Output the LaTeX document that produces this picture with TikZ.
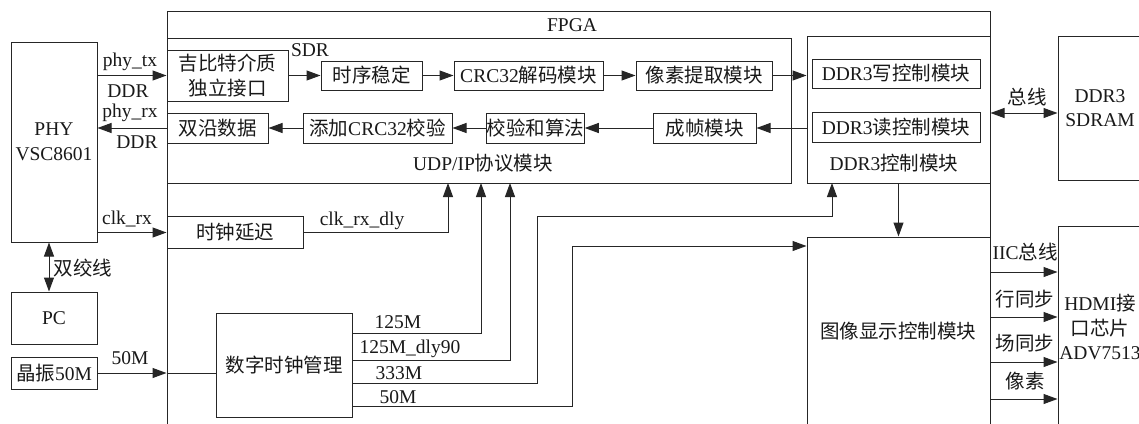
\documentclass[tikz,border=0pt]{standalone}
\usepackage{fontspec}
\setmainfont{Liberation Serif}
\newfontfamily\zhf{Noto Sans CJK SC}
\newcommand\zh[1]{{\zhf #1}}
\usetikzlibrary{arrows.meta}
\begin{document}
\begin{tikzpicture}[x=1pt,y=-1pt,
  font=\fontsize{19.5}{24.5}\selectfont,
  every node/.style={text=black!90},
  box/.style={draw=black!85, line width=1pt, inner sep=0pt, align=center},
  lbl/.style={inner sep=0pt, align=center},
  ln/.style={draw=black!85, line width=1pt},
  arr/.style={ln, -{Triangle[length=14pt,width=10pt]}},
  dbl/.style={ln, {Triangle[length=14pt,width=10pt]}-{Triangle[length=14pt,width=10pt]}}]
\useasboundingbox (0,0) rectangle (1139,423);
\clip (0,0) rectangle (1139,423);
\fill[white] (0,0) rectangle (1139,423);
% outer boxes
\node[box, minimum width=823pt, minimum height=449pt] (fpga) at (578.5,235.5) {};
\node[lbl] (fpgal) at (572,25) {FPGA};
\node[box, minimum width=624pt, minimum height=145pt] (udp) at (479,110.5) {};
\node[lbl] (udpl) at (483,163) {UDP/IP\zh{协议模块}};
\node[box, minimum width=183pt, minimum height=147pt] (ddrctl) at (898.5,109.5) {};
\node[lbl] (ddrctll) at (894,163) {DDR3\zh{控制模块}};
\node[box, minimum width=168pt, minimum height=29pt] (wr) at (896,73.5) {DDR3\zh{写控制模块}};
\node[box, minimum width=168pt, minimum height=30pt] (rd) at (896,127) {DDR3\zh{读控制模块}};
\node[box, minimum width=84pt, minimum height=144pt] (sdram) at (1100,108) {DDR3\\SDRAM};
% left
\node[box, minimum width=86pt, minimum height=200pt] (phy) at (54,142) {PHY\\VSC8601};
\node[box, minimum width=86pt, minimum height=52pt] (pc) at (54,318) {PC};
\node[box, minimum width=86pt, minimum height=32pt] (xtal) at (54,373) {\zh{晶振}50M};
% udp internals
\node[box, minimum width=121pt, minimum height=51pt] (gmii) at (227.5,75.5) {\zh{吉比特介质}\\\zh{独立接口}};
\node[box, minimum width=101pt, minimum height=29pt] (tim) at (371.5,75.5) {\zh{时序稳定}};
\node[box, minimum width=149pt, minimum height=29pt] (crcd) at (528.5,75.5) {CRC32\zh{解码模块}};
\node[box, minimum width=136pt, minimum height=29pt] (pix) at (704,75.5) {\zh{像素提取模块}};
\node[box, minimum width=101pt, minimum height=30pt] (dual) at (217.5,128) {\zh{双沿数据}};
\node[box, minimum width=149pt, minimum height=30pt] (addcrc) at (377.5,128) {\zh{添加}CRC32\zh{校验}};
\node[box, minimum width=97pt, minimum height=30pt] (chk) at (535.5,128) {\zh{校验和算法}};
\node[box, minimum width=103pt, minimum height=30pt] (frame) at (704.5,128) {\zh{成帧模块}};
% clocks
\node[box, minimum width=136pt, minimum height=32pt] (dly) at (235,232.5) {\zh{时钟延迟}};
\node[box, minimum width=136pt, minimum height=104pt] (dcm) at (284,365) {\zh{数字时钟管理}};
% display / hdmi
\node[box, minimum width=183pt, minimum height=223pt] (disp) at (898.5,348.5) {};
\node[lbl] (displ) at (898,331) {\zh{图像显示控制模块}};
\node[box, minimum width=102pt, minimum height=234pt] (hdmi) at (1109,343) {};
\node[lbl] (hdmil) at (1100,327) {HDMI\zh{接}\\\zh{口芯片}\\ADV7513};
% coordinates on udp / ddr ctl bottoms
\coordinate (u1) at (448,183);
\coordinate (u2) at (481,183);
\coordinate (u3) at (510,183);
\coordinate (d1) at (832,183);
% top row
\draw[arr] (gmii.west -| phy.east) -- (gmii.west);
\draw[arr] (gmii.east) -- (tim.west);
\draw[arr] (tim.east) -- (crcd.west);
\draw[arr] (crcd.east) -- (pix.west);
\draw[arr] (pix.east) -- (pix.east -| ddrctl.west);
% second row
\draw[arr] (frame.east -| ddrctl.west) -- (frame.east);
\draw[arr] (frame.west) -- (chk.east);
\draw[arr] (chk.west) -- (addcrc.east);
\draw[arr] (addcrc.west) -- (dual.east);
\draw[arr] (dual.west) -- (dual.west -| phy.east);
% labels left
\node[lbl] (ltx) at (130,62) {phy\_tx};
\node[lbl] (lddr1) at (128,91) {DDR};
\node[lbl] (lrx) at (130,113) {phy\_rx};
\node[lbl] (lddr2) at (137,142) {DDR};
\node[lbl] (lsdr) at (310,50) {SDR};
% clk_rx
\draw[arr] (dly.west -| phy.east) -- (dly.west);
\node[lbl] (lclk) at (127,219) {clk\_rx};
\draw[arr] (dly.east) -| (u1);
\node[lbl] (lclkd) at (362,221) {clk\_rx\_dly};
% dcm outputs
\draw[arr] ([yshift=32pt]dcm.east) -| (u2);
\draw[arr] ([yshift=5pt]dcm.east) -| (u3);
\draw[arr] ([yshift=-18pt]dcm.east) -| (537,216) -| (d1);
\draw[arr] ([yshift=-41pt]dcm.east) -| (572,246) -- (disp.west |- 0,246);
\node[lbl] (l125) at (398,322) {125M};
\node[lbl] (l125d) at (410,349) {125M\_dly90};
\node[lbl] (l333) at (399,373) {333M};
\node[lbl] (l50) at (398,397) {50M};
% xtal
\draw[arr] (xtal.east) -- (fpga.west |- xtal.east);
\draw[ln] (fpga.west |- xtal.east) -- (dcm.west |- xtal.east);
\node[lbl] (lx50) at (130,358) {50M};
% twisted pair
\draw[dbl] ([xshift=-5pt]phy.south) -- ([xshift=-5pt]pc.north);
\node[lbl] (ltp) at (83,268) {\zh{双绞线}};
% ddr bus
\draw[dbl] (ddrctl.east |- 0,113) -- (sdram.west |- 0,113);
\node[lbl] (lbus) at (1027,97) {\zh{总线}};
\draw[arr] (ddrctl.south) -- (disp.north);
% hdmi signals
\draw[arr] (disp.east |- 0,272) -- (hdmi.west |- 0,272);
\draw[arr] (disp.east |- 0,317) -- (hdmi.west |- 0,317);
\draw[arr] (disp.east |- 0,362) -- (hdmi.west |- 0,362);
\draw[arr] (disp.east |- 0,399) -- (hdmi.west |- 0,399);
\node[lbl] (liic) at (1025,252) {IIC\zh{总线}};
\node[lbl] (lhs) at (1025,299) {\zh{行同步}};
\node[lbl] (lvs) at (1025,343) {\zh{场同步}};
\node[lbl] (lpx) at (1025,381) {\zh{像素}};
\end{tikzpicture}
\end{document}
